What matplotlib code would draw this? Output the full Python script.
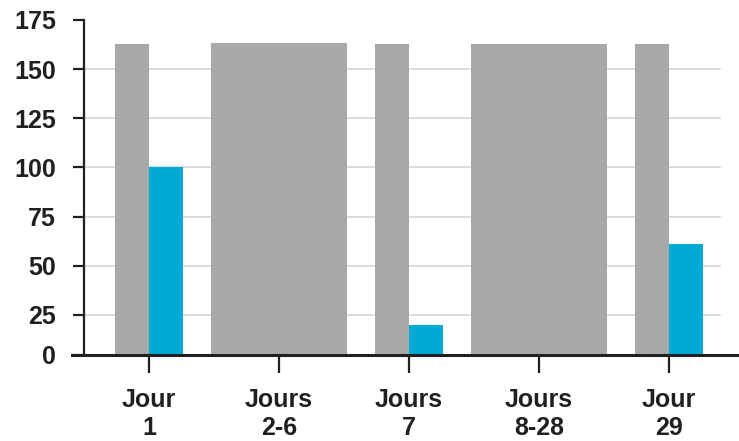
import numpy as np
import matplotlib
matplotlib.use('Agg')
import matplotlib.pyplot as plt

# categories and values
categories = ['Jour\n1', 'Jours\n2-6', 'Jours\n7', 'Jours\n8-28', 'Jour\n29']
gray_values = [163, 163.5, 163, 163, 163]
blue_values = [100, 0, 19, 0, 61]
# paired categories draw a narrow gray + blue bar, others a wide gray bar
paired = [True, False, True, False, True]
y_ticks = [0, 25, 50, 75, 100, 125, 150, 175]

gray = '#a7a8aa'
blue = '#00aad4'
ink = '#231f20'

plt.rcParams['font.family'] = ['Liberation Sans Narrow', 'Liberation Sans', 'DejaVu Sans']
plt.rcParams['font.weight'] = 'bold'

# the first 25 units of the axis are drawn a bit shorter than the rest
squeeze = 0.8136
def forward(y):
    y = np.asarray(y, dtype=float)
    return np.where(y < 25, y * squeeze, y - 25 + 25 * squeeze)
def inverse(v):
    v = np.asarray(v, dtype=float)
    return np.where(v < 25 * squeeze, v / squeeze, v + 25 - 25 * squeeze)

fig = plt.figure(figsize=(7.39, 4.41), dpi=100)
ax = fig.add_axes([84 / 739, 86 / 441, (737 - 84) / 739, (355 - 20) / 441])
ax.set_yscale('function', functions=(forward, inverse))

x = np.arange(len(categories))
narrow = 0.262
for i in range(len(categories)):
    if paired[i]:
        ax.bar(x[i] - narrow / 2, gray_values[i], width=narrow, color=gray, zorder=2)
        ax.bar(x[i] + narrow / 2, blue_values[i], width=narrow, color=blue, zorder=2)
    else:
        ax.bar(x[i], gray_values[i], width=1.04, color=gray, zorder=2)

# light gridlines, stopping short of the right end of the x axis
for t in y_ticks[1:-1]:
    ax.axhline(t, xmin=0, xmax=(720 - 84) / (737 - 84), color='#d4d4d4', lw=1.2, zorder=1)

ax.set_xlim(-0.5, 4.523)
ax.set_ylim(0, 175)
ax.set_yticks(y_ticks)
ax.set_xticks(x)
ax.set_xticklabels(categories, fontsize=18, color=ink, linespacing=1.18)
ax.tick_params(axis='y', length=8, width=1.6, color=ink, pad=12, labelsize=18, labelcolor=ink)
ax.tick_params(axis='x', length=13, width=1.6, color=ink, pad=11)

for s in ['top', 'right']:
    ax.spines[s].set_visible(False)
ax.spines['left'].set_linewidth(1.6)
ax.spines['left'].set_color(ink)
ax.spines['bottom'].set_linewidth(2.2)
ax.spines['bottom'].set_color(ink)
ax.spines['bottom'].set_bounds(-0.5 - 12 / 130, 4.523)
ax.spines['bottom'].set_zorder(3)

fig.savefig('out.png', dpi=100)
